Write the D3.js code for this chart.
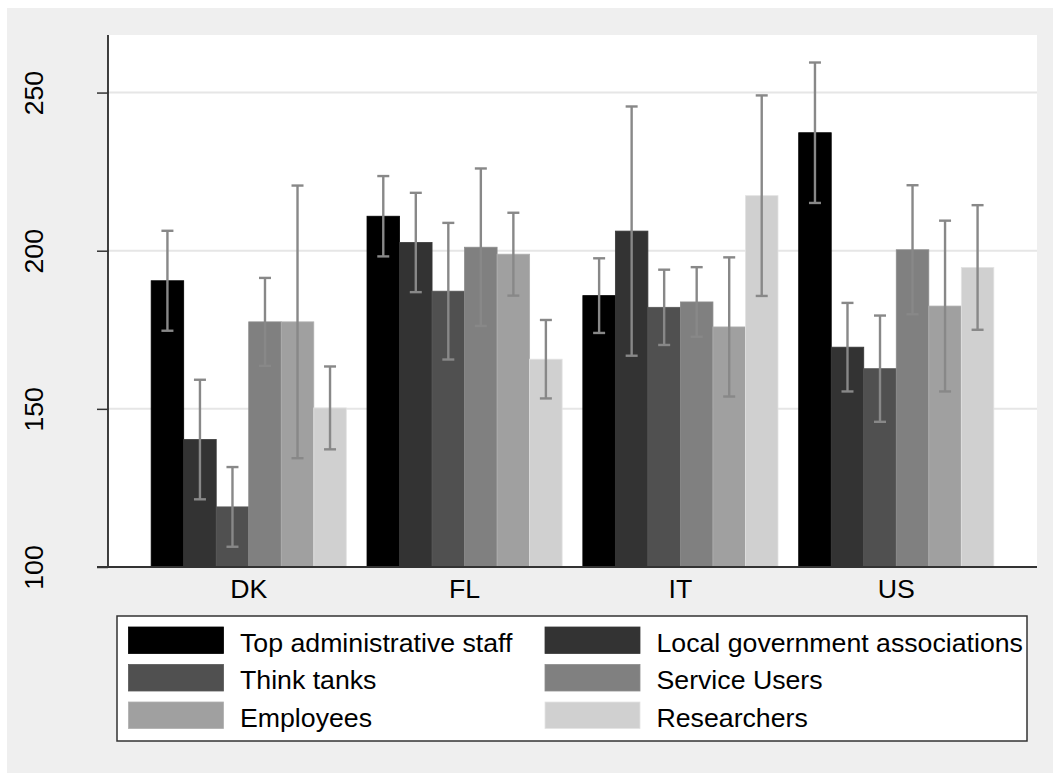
<!DOCTYPE html>
<html>
<head>
<meta charset="utf-8">
<script src="https://cdn.jsdelivr.net/npm/d3@7"></script>
<style>
  html, body { margin: 0; padding: 0; background: #ffffff; }
  svg { display: block; font-family: "Liberation Sans", Arial, sans-serif; }
</style>
</head>
<body>
<svg id="chart" width="1053" height="773"></svg>
<script>
// Countries on the x axis
const countries = ["DK", "FL", "IT", "US"];

// Actor groups (one bar per group inside each country)
const groups = [
  "Top administrative staff",
  "Local government associations",
  "Think tanks",
  "Service Users",
  "Employees",
  "Researchers"
];

// Mean score per group, one array per country
const meanDK = [190.5, 140.3, 119.0, 177.5, 177.5, 150.3];
const meanFL = [210.9, 202.6, 187.2, 201.1, 198.9, 165.7];
const meanIT = [185.8, 206.2, 182.1, 183.8, 175.9, 217.4];
const meanUS = [237.3, 169.5, 162.7, 200.3, 182.5, 194.7];

// Half-width of the confidence interval per group, one array per country
const ciDK = [15.8, 18.9, 12.6, 13.9, 43.1, 13.1];
const ciFL = [12.7, 15.7, 21.6, 24.9, 13.1, 12.4];
const ciIT = [11.8, 39.4, 11.9, 11.0, 22.0, 31.7];
const ciUS = [22.2, 14.0, 16.8, 20.4, 27.0, 19.7];

// Y axis ticks
const yTicks = [100, 150, 200, 250];

const means = [meanDK, meanFL, meanIT, meanUS];
const cis = [ciDK, ciFL, ciIT, ciUS];
const fills = ["#000000", "#333333", "#505050", "#808080", "#a0a0a0", "#d0d0d0"];

const rows = [];
countries.forEach((c, i) => {
  groups.forEach((g, j) => {
    rows.push({ country: c, group: g, mean: means[i][j], ci: cis[i][j], idx: j });
  });
});

const W = 1053, H = 773;
const plot = { left: 108, right: 1037, top: 35, bottom: 567 };
const fontSize = 26.7;

const svg = d3.select("#chart");

// Outer graph region
svg.append("rect")
  .attr("x", 7).attr("y", 8)
  .attr("width", W - 7).attr("height", H - 8)
  .attr("fill", "#efefef");

// Plot region
svg.append("rect")
  .attr("x", plot.left).attr("y", plot.top)
  .attr("width", plot.right - plot.left).attr("height", plot.bottom - plot.top)
  .attr("fill", "#ffffff");

const x0 = d3.scaleBand()
  .domain(countries)
  .range([plot.left, plot.right])
  .paddingInner(0.096)
  .paddingOuter(0.2);

const x1 = d3.scaleBand()
  .domain(groups)
  .range([0, x0.bandwidth()])
  .padding(0);

const y = d3.scaleLinear()
  .domain([100, 268.2])
  .range([plot.bottom, plot.top]);

const color = d3.scaleOrdinal().domain(groups).range(fills);

// Horizontal grid lines
svg.append("g")
  .selectAll("line")
  .data(yTicks.filter(t => t > 100))
  .join("line")
  .attr("x1", plot.left).attr("x2", plot.right)
  .attr("y1", d => y(d)).attr("y2", d => y(d))
  .attr("stroke", "#e6e6e6")
  .attr("stroke-width", 2);

// Bars
svg.append("g")
  .selectAll("rect")
  .data(rows)
  .join("rect")
  .attr("x", d => x0(d.country) + x1(d.group))
  .attr("y", d => y(d.mean))
  .attr("width", x1.bandwidth())
  .attr("height", d => y(100) - y(d.mean))
  .attr("fill", d => color(d.group))
  .attr("stroke", d => d3.color(color(d.group)).brighter(0.25))
  .attr("stroke-width", 0.8);

// Confidence interval whiskers
const err = svg.append("g")
  .attr("stroke", "#888888")
  .attr("stroke-width", 2.4)
  .attr("fill", "none");

const cx = d => x0(d.country) + x1(d.group) + x1.bandwidth() / 2;
const capHalf = 6;

err.selectAll("line.stem")
  .data(rows)
  .join("line")
  .attr("class", "stem")
  .attr("x1", cx).attr("x2", cx)
  .attr("y1", d => y(d.mean + d.ci))
  .attr("y2", d => y(Math.max(100, d.mean - d.ci)));

err.selectAll("line.capTop")
  .data(rows)
  .join("line")
  .attr("class", "capTop")
  .attr("x1", d => cx(d) - capHalf).attr("x2", d => cx(d) + capHalf)
  .attr("y1", d => y(d.mean + d.ci)).attr("y2", d => y(d.mean + d.ci));

err.selectAll("line.capBot")
  .data(rows)
  .join("line")
  .attr("class", "capBot")
  .attr("x1", d => cx(d) - capHalf).attr("x2", d => cx(d) + capHalf)
  .attr("y1", d => y(d.mean - d.ci)).attr("y2", d => y(d.mean - d.ci));

// Y axis
const yAxis = svg.append("g")
  .attr("transform", `translate(${plot.left},0)`)
  .call(d3.axisLeft(y).tickValues(yTicks).tickSize(11).tickPadding(0).tickFormat(d3.format("d")));
yAxis.select(".domain")
  .attr("d", `M0,${plot.top}V${plot.bottom}`)
  .attr("stroke", "#000000")
  .attr("stroke-width", 1.5);
yAxis.selectAll(".tick line").attr("stroke", "#333333").attr("stroke-width", 1.5);
yAxis.selectAll(".tick text")
  .attr("x", null).attr("dy", null)
  .attr("transform", "translate(-65.5,0) rotate(-90)")
  .attr("text-anchor", "middle")
  .attr("dominant-baseline", "auto")
  .attr("font-size", fontSize)
  .attr("font-family", "'Liberation Sans', Arial, sans-serif")
  .attr("fill", "#000000");

// X axis
const xAxis = svg.append("g")
  .attr("transform", `translate(0,${plot.bottom})`)
  .call(d3.axisBottom(x0).tickSize(0).tickPadding(0));
xAxis.select(".domain")
  .attr("d", `M${plot.left - 11},0H${plot.right}`)
  .attr("stroke", "#333333")
  .attr("stroke-width", 1.8);
xAxis.selectAll(".tick text")
  .attr("y", 30.5).attr("dy", null)
  .attr("font-size", fontSize)
  .attr("font-family", "'Liberation Sans', Arial, sans-serif")
  .attr("fill", "#000000");

// Legend
const legend = svg.append("g");
legend.append("rect")
  .attr("x", 117).attr("y", 616)
  .attr("width", 1027 - 117).attr("height", 741 - 616)
  .attr("fill", "#ffffff")
  .attr("stroke", "#333333")
  .attr("stroke-width", 1.5);

const colX = [128.5, 545];
const rowY = [627, 664.5, 702];
const items = legend.selectAll("g.item")
  .data(groups)
  .join("g")
  .attr("class", "item")
  .attr("transform", (d, i) => `translate(${colX[i % 2]},${rowY[Math.floor(i / 2)]})`);

items.append("rect")
  .attr("width", 95).attr("height", 26.5)
  .attr("fill", d => color(d))
  .attr("stroke", d => d3.color(color(d)).brighter(0.25))
  .attr("stroke-width", 0.8);

items.append("text")
  .attr("x", 111.5).attr("y", 24.5)
  .attr("font-size", fontSize)
  .attr("fill", "#000000")
  .text(d => d);
</script>
</body>
</html>
